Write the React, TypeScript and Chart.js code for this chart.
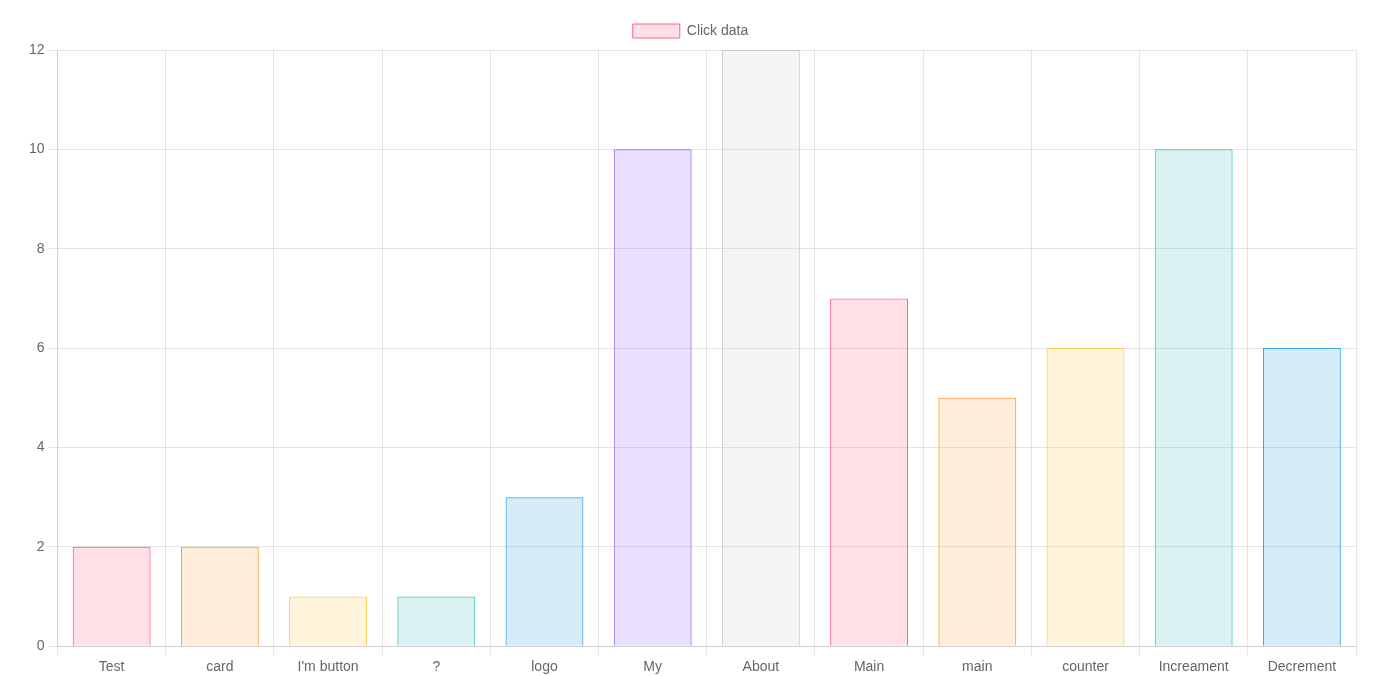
import React, { useEffect, useRef } from "react";
import { Chart, registerables } from "chart.js";

Chart.register(...registerables);

const categories = ["Test", "card", "I'm button", "?", "logo", "My", "About", "Main", "main", "counter", "Increament", "Decrement"];
const clickValues = [2, 2, 1, 1, 3, 10, 12, 7, 5, 6, 10, 6];
const seriesLabel = "Click data";

const fills = [
  "rgba(255, 99, 132, 0.2)",
  "rgba(255, 159, 64, 0.2)",
  "rgba(255, 205, 86, 0.2)",
  "rgba(75, 192, 192, 0.2)",
  "rgba(54, 162, 235, 0.2)",
  "rgba(153, 102, 255, 0.2)",
  "rgba(201, 203, 207, 0.2)",
];
const borders = [
  "rgb(255, 99, 132)",
  "rgb(255, 159, 64)",
  "rgb(255, 205, 86)",
  "rgb(75, 192, 192)",
  "rgb(54, 162, 235)",
  "rgb(153, 102, 255)",
  "rgb(201, 203, 207)",
];

const legendSpacer = {
  id: "legendSpacer",
  beforeInit(chart: any) {
    const legend = chart.legend;
    if (!legend) return;
    const orig = legend.fit;
    legend.fit = function () {
      orig.call(this);
      this.height += 2;
    };
  },
};

export default function App() {
  const ref = useRef<HTMLCanvasElement>(null);
  useEffect(() => {
    if (!ref.current) return;
    const font = { family: "'Liberation Sans', Arial, Helvetica, sans-serif", size: 14 };
    const chart = new Chart(ref.current, {
      type: "bar",
      data: {
        labels: categories,
        datasets: [
          {
            label: seriesLabel,
            data: clickValues,
            backgroundColor: categories.map((_, i) => fills[i % fills.length]),
            borderColor: categories.map((_, i) => borders[i % borders.length]),
            borderWidth: 1,
          },
        ],
      },
      options: {
        animation: false,
        responsive: true,
        maintainAspectRatio: false,
        layout: { padding: { left: 25, right: 40, top: 14, bottom: 0 } },
        plugins: {
          legend: {
            labels: { font, color: "#666", boxWidth: 47, boxHeight: 14, padding: 10 },
          },
          tooltip: { enabled: false },
        },
        scales: {
          x: {
            ticks: { font, color: "#666", padding: 4 },
            grid: { color: "rgba(0,0,0,0.1)", tickLength: 9 },
          },
          y: {
            beginAtZero: true,
            ticks: { font, color: "#666", padding: 4, stepSize: 2 },
            grid: { color: "rgba(0,0,0,0.1)", tickLength: 9 },
          },
        },
      },
      plugins: [legendSpacer],
    });
    return () => chart.destroy();
  }, []);
  return (
    <div style={{ position: "absolute", left: 0, top: 0, width: 1396, height: 676, overflow: "hidden" }}>
      <div style={{ position: "relative", width: 1396, height: 680 }}>
        <canvas ref={ref} />
      </div>
    </div>
  );
}
